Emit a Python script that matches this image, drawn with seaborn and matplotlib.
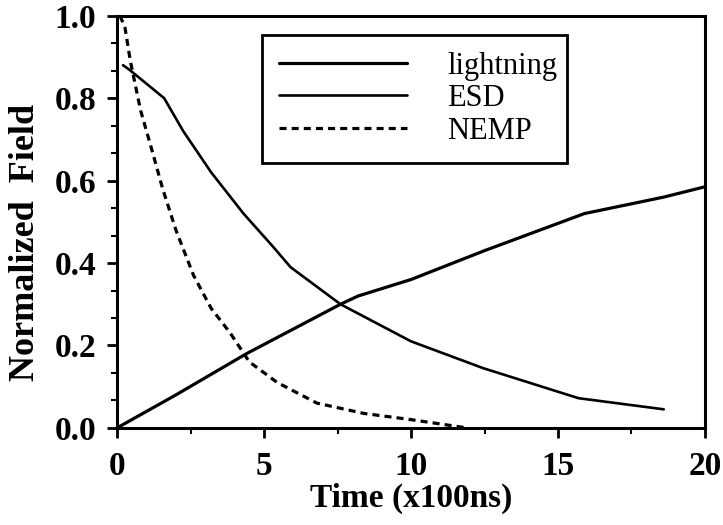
import numpy as np
import pandas as pd
import matplotlib
matplotlib.use("Agg")
import matplotlib.pyplot as plt
import seaborn as sns
from matplotlib.ticker import MultipleLocator, AutoMinorLocator

# values
lightning_t = [0.0, 2.0, 4.4, 6.0, 7.6, 8.2, 10.0, 12.5, 15.9, 18.6, 20.0]
lightning_v = [0.0, 0.08, 0.18, 0.24, 0.30, 0.32, 0.36, 0.43, 0.52, 0.56, 0.585]

esd_t = [0.2, 0.4, 1.6, 2.25, 3.2, 4.3, 5.3, 5.9, 7.6, 10.0, 12.45, 15.7, 18.6]
esd_v = [0.88, 0.87, 0.80, 0.72, 0.62, 0.52, 0.44, 0.39, 0.30, 0.21, 0.145, 0.072, 0.045]

nemp_t = [0.1, 0.27, 0.45, 0.8, 1.2, 1.55, 2.0, 2.6, 3.2, 3.85, 4.5, 5.45, 6.8, 8.4, 10.0, 11.9]
nemp_v = [1.0, 0.97, 0.89, 0.77, 0.67, 0.58, 0.48, 0.37, 0.29, 0.23, 0.16, 0.11, 0.06, 0.035, 0.02, 0.0]

series_names = ["lightning", "ESD", "NEMP"]

sns.set_theme(style="ticks")
plt.rcParams['font.family'] = ['Liberation Serif', 'DejaVu Serif']
plt.rcParams.update({
    "text.color": "black",
    "axes.labelcolor": "black",
    "xtick.color": "black",
    "ytick.color": "black",
    "axes.edgecolor": "black",
})

df = pd.concat([
    pd.DataFrame({"t": lightning_t, "v": lightning_v, "series": "lightning"}),
    pd.DataFrame({"t": esd_t, "v": esd_v, "series": "ESD"}),
    pd.DataFrame({"t": nemp_t, "v": nemp_v, "series": "NEMP"}),
], ignore_index=True)

fig = plt.figure(figsize=(7.23, 5.25), dpi=100)
ax = fig.add_axes([0.162, 0.185, 0.813, 0.785])

styles = {
    "lightning": dict(lw=2.3, ls="-"),
    "ESD": dict(lw=1.9, ls="-"),
    "NEMP": dict(lw=2.3, ls=(0, (2.2, 1.6))),
}
for name in series_names:
    sub = df[df["series"] == name]
    sns.lineplot(data=sub, x="t", y="v", ax=ax, color="black", label=name,
                 linewidth=styles[name]["lw"], linestyle=styles[name]["ls"],
                 estimator=None, sort=False)

ax.set_xlim(0, 20)
ax.set_ylim(0, 1.0)
ax.xaxis.set_major_locator(MultipleLocator(5))
ax.xaxis.set_minor_locator(MultipleLocator(2.5))
ax.yaxis.set_major_locator(MultipleLocator(0.2))
ax.yaxis.set_minor_locator(AutoMinorLocator(3))
ax.yaxis.set_major_formatter(plt.FormatStrFormatter("%.1f"))

for s in ax.spines.values():
    s.set_linewidth(2.2)
    s.set_color("black")
ax.tick_params(which="major", direction="out", length=7, width=2, labelsize=24, pad=8, colors="black")
ax.tick_params(axis="x", which="major", pad=10)
ax.tick_params(which="minor", direction="out", length=4, width=1.5, colors="black")
for lab in ax.get_xticklabels() + ax.get_yticklabels():
    lab.set_fontweight("bold")

ax.set_xlabel("Time (x100ns)", fontsize=24, fontweight="bold", labelpad=0.5)
ax.set_ylabel("Normalized  Field", fontsize=26, fontweight="bold")
ax.yaxis.set_label_coords(-0.128, 0.45)

leg = ax.legend(loc="upper left", bbox_to_anchor=(0.247, 0.954, 0.518, 0.0), mode="expand",
                fontsize=22, handlelength=4.2, handletextpad=1.3, borderpad=0.55,
                labelspacing=0.12, frameon=True, fancybox=False, borderaxespad=0,
                framealpha=1)
leg.get_frame().set_edgecolor("black")
leg.get_frame().set_linewidth(2.0)
for txt in leg.get_texts():
    txt.set_color("black")

fig.savefig("out.png", dpi=100)
